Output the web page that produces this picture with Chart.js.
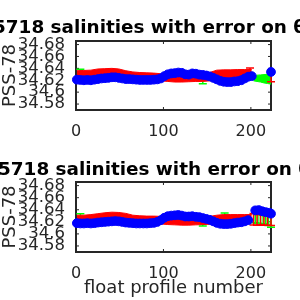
<!DOCTYPE html>
<html>
<head>
<meta charset="utf-8">
<script src="https://cdn.jsdelivr.net/npm/chart.js@4"></script>
<style>
  html, body { margin: 0; padding: 0; background: #fff; }
  canvas { display: block; }
</style>
</head>
<body>
<canvas id="topChart" width="300" height="150"></canvas>
<canvas id="bottomChart" width="300" height="150"></canvas>
<script>
// ==== Axis ticks ====
const xTicks = [0, 100, 200];
const yTicks = [34.58, 34.6, 34.62, 34.64, 34.66, 34.68];

// ==== Top panel data ====
const topTitle = '5718 salinities with error on θ = 2.58°C';
const topBlueX = [1,5,9,13,17,21,25,29,33,37,41,45,49,53,57,61,65,69,73,77,81,85,89,93,97,101,105,109,113,117,121,125,129,133,137,141,145,149,153,157,161,165,169,173,177,181,185,189,193,197,201,223];
const topBlue = [34.621,34.6205,34.620,34.6205,34.620,34.621,34.622,34.623,34.6235,34.624,34.625,34.625,34.624,34.623,34.622,34.622,34.6215,34.621,34.6205,34.6205,34.6205,34.6205,34.621,34.6215,34.623,34.627,34.630,34.6315,34.632,34.633,34.6325,34.630,34.6295,34.6315,34.631,34.6295,34.629,34.628,34.6265,34.624,34.6215,34.619,34.6175,34.617,34.617,34.618,34.6185,34.620,34.623,34.626,34.627,34.634];
const bandX = [1,9,17,25,33,41,49,57,65,73,81,89,97,105,113,121,129,137,145,153,161,169,177,185,193,201];
const topRedHi = [34.636,34.6365,34.637,34.639,34.6395,34.640,34.639,34.636,34.634,34.633,34.6325,34.632,34.631,34.630,34.630,34.630,34.630,34.630,34.631,34.633,34.637,34.6375,34.6375,34.638,34.638,34.638];
const topRedLo = [34.620,34.620,34.6205,34.621,34.621,34.6215,34.622,34.621,34.620,34.620,34.6195,34.619,34.619,34.618,34.617,34.617,34.6175,34.618,34.618,34.619,34.6195,34.620,34.6205,34.621,34.6215,34.622];
const topRedErrX = [199, 223];
const topRedErrLo = [34.630, 34.6175];
const topRedErrHi = [34.6405, 34.634];
const topGreenX = [203,207,211,215,219,223];
const topGreenHi = [34.628,34.6285,34.629,34.6295,34.630,34.6305];
const topGreenLo = [34.619,34.618,34.617,34.6155,34.6145,34.6135];
const topGreenErrX = [5, 145];
const topGreenErrLo = [34.622, 34.614];
const topGreenErrHi = [34.6385, 34.620];

// ==== Bottom panel data ====
const botTitle = '5718 salinities with error on θ = 3.5°C';
const botBlueX = [1,5,9,13,17,21,25,29,33,37,41,45,49,53,57,61,65,69,73,77,81,85,89,93,97,101,105,109,113,117,121,125,129,133,137,141,145,149,153,157,161,165,169,173,177,181,185,189,193,197,205,209,213,217,221,223];
const botBlue = [34.6178,34.6173,34.6173,34.6178,34.6173,34.6178,34.6188,34.6193,34.6198,34.6203,34.6208,34.6213,34.6208,34.6198,34.6188,34.6183,34.6178,34.6173,34.6173,34.6173,34.6173,34.6178,34.6183,34.6198,34.6228,34.6268,34.6293,34.6303,34.6308,34.6313,34.6303,34.6288,34.6288,34.6293,34.6283,34.6278,34.6263,34.6248,34.6233,34.6208,34.6183,34.6168,34.6163,34.6163,34.6168,34.6178,34.6188,34.6193,34.6208,34.6228,34.639,34.6395,34.6375,34.636,34.635,34.6335];
const botRedHi = [34.631,34.631,34.632,34.6335,34.635,34.636,34.6355,34.634,34.631,34.630,34.6295,34.6295,34.629,34.628,34.628,34.628,34.628,34.628,34.628,34.629,34.631,34.632,34.632,34.632,34.632,34.632];
const botRedLo = [34.617,34.617,34.617,34.6175,34.618,34.618,34.618,34.6175,34.617,34.617,34.617,34.617,34.6165,34.6155,34.615,34.6145,34.6145,34.615,34.6155,34.616,34.6165,34.617,34.6175,34.618,34.6185,34.619];
const botRedErrX = [203,207,211,215,219,223];
const botRedErrLo = [34.6147,34.6145,34.615,34.6145,34.6145,34.614];
const botRedErrHi = [34.634,34.632,34.632,34.631,34.631,34.630];
const botGreenErrX = [5,145,170,205,208,211,214,217,220,223];
const botGreenErrLo = [34.620,34.613,34.628,34.6185,34.6175,34.617,34.6165,34.616,34.614,34.611];
const botGreenErrHi = [34.6335,34.620,34.6345,34.634,34.633,34.632,34.631,34.630,34.630,34.630];

// ==== Helpers ====
const TEXT = '#262626';
const FONT = 'DejaVu Sans';
const pts = (xs, ys) => xs.map((x, i) => ({ x: x, y: ys[i] }));

// error bars drawn right after the dataset that carries them
const errorBars = {
    id: 'errorBars',
    afterDatasetDraw(chart, args) {
        const ds = chart.data.datasets[args.index];
        if (!ds.errBars) return;
        const { x, lo, hi } = ds.errBars;
        const xs = chart.scales.x, ys = chart.scales.y, ctx = chart.ctx;
        ctx.save();
        ctx.strokeStyle = ds.errColor;
        ctx.lineWidth = 1.5;
        for (let i = 0; i < x.length; i++) {
            const px = xs.getPixelForValue(x[i]);
            const y1 = ys.getPixelForValue(lo[i]);
            const y2 = ys.getPixelForValue(hi[i]);
            ctx.beginPath();
            ctx.moveTo(px, y1); ctx.lineTo(px, y2);
            ctx.moveTo(px - 4, y1); ctx.lineTo(px + 4, y1);
            ctx.moveTo(px - 4, y2); ctx.lineTo(px + 4, y2);
            ctx.stroke();
        }
        ctx.restore();
    }
};

// MATLAB style box with inward ticks
const axesBox = {
    id: 'axesBox',
    beforeDatasetsDraw(chart) {
        const { ctx, chartArea: a, scales: { x, y } } = chart;
        ctx.save();
        ctx.strokeStyle = TEXT;
        ctx.lineWidth = 2;
        ctx.strokeRect(a.left, a.top, a.right - a.left, a.bottom - a.top);
        ctx.lineWidth = 1;
        ctx.beginPath();
        x.ticks.forEach(t => {
            const px = x.getPixelForValue(t.value);
            ctx.moveTo(px, a.bottom); ctx.lineTo(px, a.bottom - 3);
            ctx.moveTo(px, a.top); ctx.lineTo(px, a.top + 3);
        });
        y.ticks.forEach(t => {
            const py = y.getPixelForValue(t.value);
            ctx.moveTo(a.left, py); ctx.lineTo(a.left + 3, py);
            ctx.moveTo(a.right, py); ctx.lineTo(a.right - 3, py);
        });
        ctx.stroke();
        ctx.restore();
    }
};

// title runs off the left edge of the canvas like the original (float id cut off)
const panelTitle = {
    id: 'panelTitle',
    afterDraw(chart, args, opts) {
        const ctx = chart.ctx;
        ctx.save();
        ctx.font = 'bold 18.4px "' + FONT + '"';
        ctx.fillStyle = '#000';
        ctx.textAlign = 'left';
        ctx.textBaseline = 'alphabetic';
        ctx.fillText(opts.text, opts.left, opts.baseline);
        ctx.restore();
    }
};

function makePanel(id, cfg) {
    const datasets = [];
    if (cfg.greenHi) {
        datasets.push({ data: pts(cfg.greenX, cfg.greenHi), borderColor: '#00ff00', borderWidth: 1, pointRadius: 0, fill: false, order: 2 });
        datasets.push({ data: pts(cfg.greenX, cfg.greenLo), borderColor: '#00ff00', borderWidth: 1, pointRadius: 0,
            fill: '-1', backgroundColor: '#00ff00', order: 2,
            errBars: { x: cfg.greenErrX, lo: cfg.greenErrLo, hi: cfg.greenErrHi }, errColor: '#00ff00' });
    } else {
        // green error bars only: carried by an empty dataset
        datasets.push({ data: [], order: 2, pointRadius: 0,
            errBars: { x: cfg.greenErrX, lo: cfg.greenErrLo, hi: cfg.greenErrHi }, errColor: '#00ff00' });
    }
    datasets.push({ data: pts(bandX, cfg.redHi), borderColor: '#ff0000', borderWidth: 1, pointRadius: 0, fill: false, order: 1 });
    datasets.push({ data: pts(bandX, cfg.redLo), borderColor: '#ff0000', borderWidth: 1, pointRadius: 0,
        fill: '-1', backgroundColor: '#ff0000', order: 1,
        errBars: { x: cfg.redErrX, lo: cfg.redErrLo, hi: cfg.redErrHi }, errColor: '#ff0000' });
    datasets.push({ data: pts(cfg.blueX, cfg.blue), showLine: false, pointRadius: 4.4, pointBorderWidth: 1,
        pointBackgroundColor: '#0000ff', pointBorderColor: '#0000ff', order: 0, clip: false });

    return new Chart(document.getElementById(id), {
        type: 'line',
        data: { datasets: datasets },
        options: {
            responsive: false,
            animation: false,
            events: [],
            devicePixelRatio: 1,
            layout: { padding: { top: cfg.top, right: 29, bottom: 0, left: 0 } },
            plugins: {
                legend: { display: false },
                tooltip: { enabled: false },
                panelTitle: { text: cfg.title, left: cfg.titleLeft, baseline: cfg.titleBase }
            },
            scales: {
                x: {
                    type: 'linear', min: 0, max: 223,
                    afterBuildTicks: s => { s.ticks = xTicks.map(v => ({ value: v })); },
                    afterFit: s => { s.height = cfg.xHeight; },
                    grid: { display: false },
                    border: { display: false },
                    ticks: { color: TEXT, font: { family: FONT, size: 16 }, padding: 4, maxRotation: 0, autoSkip: false },
                    title: { display: !!cfg.xTitle, text: cfg.xTitle || '', color: TEXT,
                        font: { family: FONT, size: 18 }, padding: { top: 0, bottom: 1 } }
                },
                y: {
                    min: 34.57, max: 34.686,
                    afterBuildTicks: s => { s.ticks = yTicks.map(v => ({ value: v })); },
                    afterFit: s => { s.width = 76; },
                    grid: { display: false },
                    border: { display: false },
                    ticks: { color: TEXT, font: { family: FONT, size: 16.5 }, padding: 3, autoSkip: false,
                        callback: v => String(+v.toFixed(2)) },
                    title: { display: true, text: 'PSS-78', color: TEXT,
                        font: { family: FONT, size: 18 }, padding: { top: 0, bottom: 0 } }
                }
            }
        },
        plugins: [axesBox, errorBars, panelTitle]
    });
}

makePanel('topChart', {
    title: topTitle, titleLeft: -7, titleBase: 33, top: 41, xHeight: 40,
    blueX: topBlueX, blue: topBlue,
    redHi: topRedHi, redLo: topRedLo,
    redErrX: topRedErrX, redErrLo: topRedErrLo, redErrHi: topRedErrHi,
    greenX: topGreenX, greenHi: topGreenHi, greenLo: topGreenLo,
    greenErrX: topGreenErrX, greenErrLo: topGreenErrLo, greenErrHi: topGreenErrHi
});

makePanel('bottomChart', {
    title: botTitle, titleLeft: -2, titleBase: 25, top: 32, xHeight: 48, xTitle: 'float profile number',
    blueX: botBlueX, blue: botBlue,
    redHi: botRedHi, redLo: botRedLo,
    redErrX: botRedErrX, redErrLo: botRedErrLo, redErrHi: botRedErrHi,
    greenErrX: botGreenErrX, greenErrLo: botGreenErrLo, greenErrHi: botGreenErrHi
});
</script>
</body>
</html>
